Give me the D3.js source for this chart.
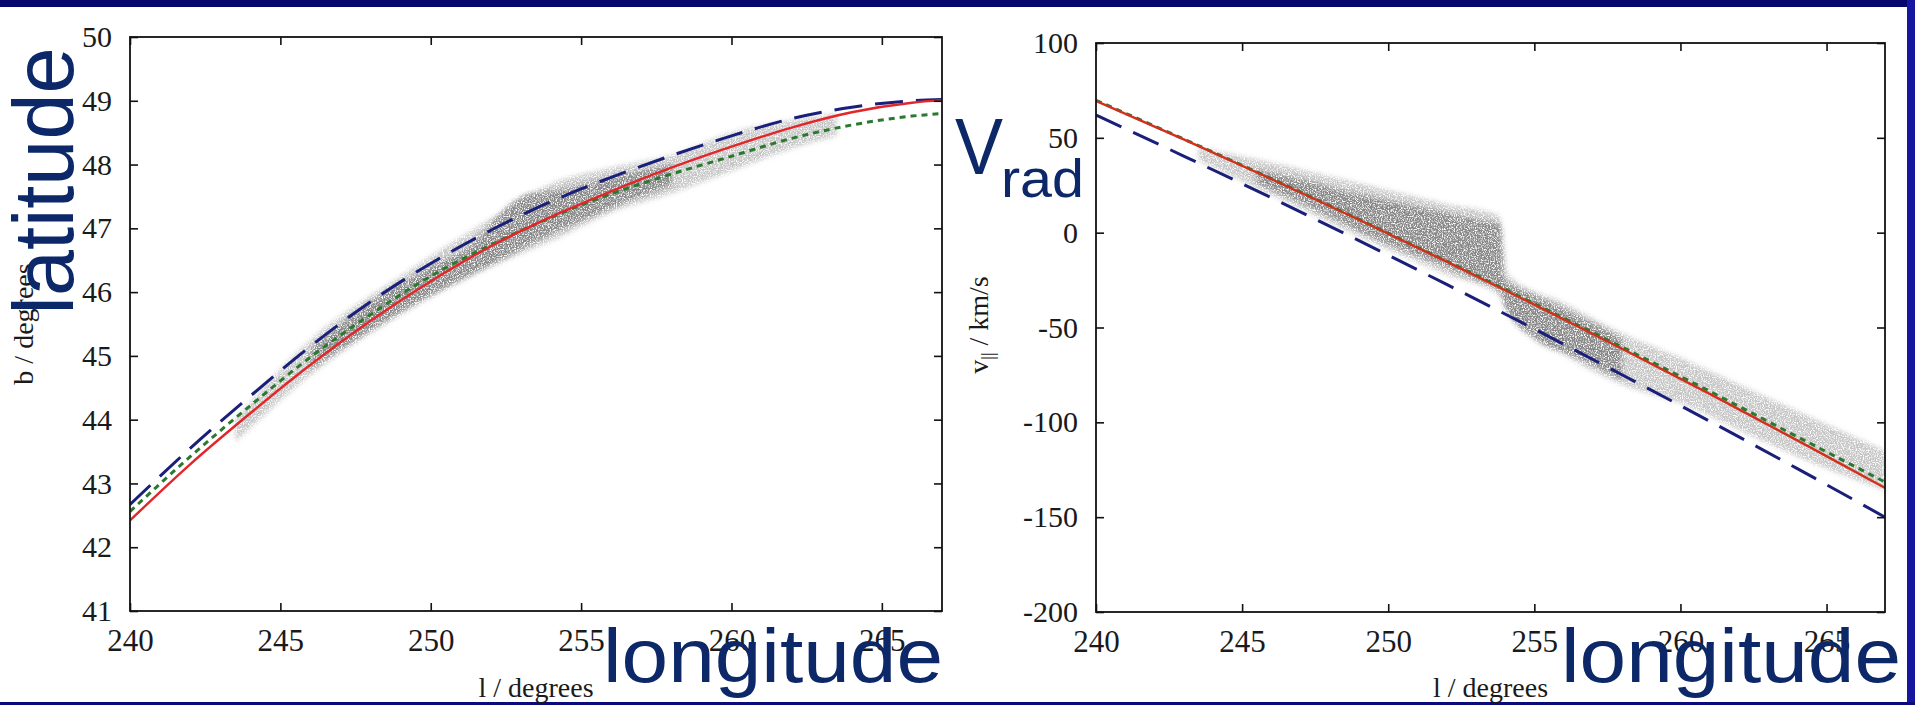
<!DOCTYPE html>
<html>
<head>
<meta charset="utf-8">
<script src="https://cdn.jsdelivr.net/npm/d3@7"></script>
<style>
  html, body { margin: 0; padding: 0; background: #fff; }
  svg { display: block; }
</style>
</head>
<body>
<svg id="chart"></svg>
<script>
// ---- values ----
const lonTicks = [240, 245, 250, 255, 260, 265];
const latTicks = [41, 42, 43, 44, 45, 46, 47, 48, 49, 50];
const velTicks = [-200, -150, -100, -50, 0, 50, 100];

// latitude panel: three model tracks
const latLon   = [240, 242, 244, 246, 248, 250, 252, 254, 256, 258, 260, 262, 264, 266, 267];
const latRed   = [42.42, 43.30, 44.10, 44.86, 45.55, 46.17, 46.72, 47.18, 47.58, 47.95, 48.28, 48.58, 48.82, 48.97, 49.01];
const latBlue  = [42.67, 43.55, 44.37, 45.15, 45.85, 46.45, 46.97, 47.42, 47.80, 48.14, 48.45, 48.72, 48.90, 49.00, 49.02];
const latGreen = [42.56, 43.42, 44.22, 44.98, 45.65, 46.25, 46.74, 47.17, 47.54, 47.85, 48.13, 48.41, 48.62, 48.76, 48.80];

// latitude panel: particle cloud (faint halo + dense core), lower / upper edge
const latHaloLon  = [243.5, 246, 249, 252, 254, 256, 258, 260, 262, 263.5];
const latHaloLow  = [43.65, 44.70, 45.65, 46.40, 46.80, 47.25, 47.55, 47.90, 48.25, 48.45];
const latHaloHigh = [44.00, 45.25, 46.25, 47.15, 47.70, 47.95, 48.15, 48.50, 48.70, 48.80];
const latCoreLon  = [246, 248, 250, 251.5, 252.5, 253.3, 254, 255, 256.5, 258];
const latCoreLow  = [44.80, 45.40, 45.95, 46.30, 46.55, 46.75, 46.92, 47.12, 47.42, 47.68];
const latCoreHigh = [45.10, 45.85, 46.40, 46.80, 47.32, 47.55, 47.58, 47.68, 47.85, 48.00];

// radial velocity panel: three model tracks
const velLon   = [240, 243, 246, 249, 252, 255, 258, 261, 264, 267];
const velRed   = [69.5, 49.2, 28.3, 6.8, -15.3, -37.9, -61.2, -85.0, -109.5, -134.5];
const velBlue  = [62.0, 40.4, 18.4, -4.2, -27.3, -50.8, -74.9, -99.4, -124.4, -150.0];
const velGreen = [69.8, 49.4, 28.5, 7.0, -15.0, -37.4, -60.3, -83.6, -107.6, -131.5];

// radial velocity panel: particle cloud
const velHaloLon  = [243.5, 246, 249, 252, 253.8, 254.1, 256, 258, 260, 262, 264, 267];
const velHaloLow  = [38, 20, -2, -22, -33, -40, -64, -80, -90, -104, -118, -136];
const velHaloHigh = [45, 37, 26, 15, 9, -22, -37, -53, -66, -80, -94, -115];
const velCoreLon  = [245.5, 247, 248.5, 250, 251.5, 253, 253.85, 253.95, 255, 256.5, 258];
const velCoreLow  = [26, 16, 5, -6, -15, -25, -31, -38, -56, -66, -78];
const velCoreHigh = [33, 28, 22, 17, 12, 7, 4, -24, -33, -44, -56];

const W = 1915, H = 705;
const navy = "#0c2869";
const tickFont = "'Liberation Serif', 'Times New Roman', serif";
const bigFont = "'Liberation Sans', Arial, sans-serif";

const svg = d3.select("#chart").attr("width", W).attr("height", H);
svg.append("rect").attr("width", W).attr("height", H).attr("fill", "#fff");

// slide frame
svg.append("rect").attr("x", 0).attr("y", 0).attr("width", W).attr("height", 7).attr("fill", "#06066c");
svg.append("rect").attr("x", 1907).attr("y", 0).attr("width", 8).attr("height", H).attr("fill", "#1616a0");
svg.append("rect").attr("x", 0).attr("y", 702).attr("width", W).attr("height", 3).attr("fill", "#0a0a7a");

// speckle filter so the cloud reads as scattered points
const defs = svg.append("defs");
const f = defs.append("filter").attr("id", "speckle")
    .attr("color-interpolation-filters", "sRGB")
    .attr("x", "-10%").attr("y", "-10%").attr("width", "120%").attr("height", "120%");
f.append("feGaussianBlur").attr("in", "SourceGraphic").attr("stdDeviation", 2.5).attr("result", "soft");
f.append("feTurbulence").attr("type", "fractalNoise").attr("baseFrequency", 0.85)
    .attr("numOctaves", 2).attr("seed", 3).attr("result", "noise");
f.append("feColorMatrix").attr("in", "noise").attr("type", "matrix")
    .attr("values", "0 0 0 0 0.5  0 0 0 0 0.5  0 0 0 0 0.5  3.5 0 0 0 -0.95").attr("result", "dots");
f.append("feComposite").attr("in", "dots").attr("in2", "soft").attr("operator", "in");

function drawPanel(cfg) {
    const x = d3.scaleLinear().domain([240, 267]).range([cfg.left, cfg.right]);
    const y = d3.scaleLinear().domain(cfg.yDomain).range([cfg.bottom, cfg.top]);

    defs.append("clipPath").attr("id", cfg.id + "-clip")
        .append("rect").attr("x", cfg.left).attr("y", cfg.top)
        .attr("width", cfg.right - cfg.left).attr("height", cfg.bottom - cfg.top);

    const plot = svg.append("g").attr("clip-path", `url(#${cfg.id}-clip)`);

    const area = d3.area().curve(d3.curveMonotoneX)
        .x(d => x(d[0])).y0(d => y(d[1])).y1(d => y(d[2]));
    const cloud = plot.append("g").attr("filter", "url(#speckle)");
    cloud.append("path").datum(d3.zip(cfg.haloLon, cfg.haloLow, cfg.haloHigh))
        .attr("d", area).attr("fill", "#777").attr("fill-opacity", 0.45);
    cloud.append("path").datum(d3.zip(cfg.coreLon, cfg.coreLow, cfg.coreHigh))
        .attr("d", area).attr("fill", "#666").attr("fill-opacity", 0.9);

    const line = d3.line().curve(d3.curveMonotoneX).x(d => x(d[0])).y(d => y(d[1]));
    plot.append("path").datum(d3.zip(cfg.lon, cfg.green)).attr("d", line)
        .attr("fill", "none").attr("stroke", "#2a7a2e").attr("stroke-width", 3)
        .attr("stroke-dasharray", "6,5");
    plot.append("path").datum(d3.zip(cfg.lon, cfg.blue)).attr("d", line)
        .attr("fill", "none").attr("stroke", "#1a1f7a").attr("stroke-width", 3)
        .attr("stroke-dasharray", "28,13");
    plot.append("path").datum(d3.zip(cfg.lon, cfg.red)).attr("d", line)
        .attr("fill", "none").attr("stroke", cfg.redColor).attr("stroke-width", 2.4);

    // axes, ticks point inwards on all four sides
    const fmt = d => String(d);
    const styleAxis = sel => {
        sel.select(".domain").remove();
        sel.selectAll(".tick line").attr("stroke", "#111").attr("stroke-width", 1.6);
        sel.selectAll(".tick text").attr("fill", "#1a1a1a").attr("font-family", tickFont);
    };
    svg.append("g").attr("transform", `translate(0,${cfg.bottom})`)
        .call(d3.axisBottom(x).tickValues(lonTicks).tickSize(-8).tickPadding(18).tickFormat(fmt))
        .call(styleAxis).selectAll(".tick text").attr("font-size", 31);
    svg.append("g").attr("transform", `translate(0,${cfg.top})`)
        .call(d3.axisTop(x).tickValues(lonTicks).tickSize(-8).tickFormat(""))
        .call(styleAxis);
    svg.append("g").attr("transform", `translate(${cfg.left},0)`)
        .call(d3.axisLeft(y).tickValues(cfg.yTicks).tickSize(-8).tickPadding(18).tickFormat(fmt))
        .call(styleAxis).selectAll(".tick text").attr("font-size", 30);
    svg.append("g").attr("transform", `translate(${cfg.right},0)`)
        .call(d3.axisRight(y).tickValues(cfg.yTicks).tickSize(-8).tickFormat(""))
        .call(styleAxis);

    svg.append("rect").attr("x", cfg.left).attr("y", cfg.top)
        .attr("width", cfg.right - cfg.left).attr("height", cfg.bottom - cfg.top)
        .attr("fill", "none").attr("stroke", "#111").attr("stroke-width", 1.8);

    svg.append("text").attr("x", (cfg.left + cfg.right) / 2).attr("y", 697)
        .attr("text-anchor", "middle").attr("font-family", tickFont).attr("font-size", 28)
        .attr("fill", "#1a1a1a").text("l / degrees");

    return { x, y };
}

drawPanel({
    id: "lat", left: 130, right: 942, top: 37, bottom: 611,
    yDomain: [41, 50], yTicks: latTicks, redColor: "#e3262a",
    lon: latLon, red: latRed, blue: latBlue, green: latGreen,
    haloLon: latHaloLon, haloLow: latHaloLow, haloHigh: latHaloHigh,
    coreLon: latCoreLon, coreLow: latCoreLow, coreHigh: latCoreHigh
});

drawPanel({
    id: "vel", left: 1096, right: 1885, top: 43, bottom: 612,
    yDomain: [-200, 100], yTicks: velTicks, redColor: "#d2301c",
    lon: velLon, red: velRed, blue: velBlue, green: velGreen,
    haloLon: velHaloLon, haloLow: velHaloLow, haloHigh: velHaloHigh,
    coreLon: velCoreLon, coreLow: velCoreLow, coreHigh: velCoreHigh
});

// small y axis titles
svg.append("text").attr("transform", "translate(33,324) rotate(-90)")
    .attr("text-anchor", "middle").attr("font-family", tickFont).attr("font-size", 28)
    .attr("fill", "#1a1a1a").text("b / degrees");
const vt = svg.append("text").attr("transform", "translate(988,325) rotate(-90)")
    .attr("text-anchor", "middle").attr("font-family", tickFont).attr("font-size", 28)
    .attr("fill", "#1a1a1a");
vt.append("tspan").text("v");
vt.append("tspan").attr("font-size", 18).attr("dy", 6).text("||");
vt.append("tspan").attr("dy", -6).text(" / km/s");

// large slide annotations
svg.append("text").attr("transform", "translate(73,181) rotate(-90)")
    .attr("text-anchor", "middle").attr("font-family", bigFont).attr("font-size", 86)
    .attr("textLength", 267).attr("lengthAdjust", "spacingAndGlyphs")
    .attr("fill", navy).text("latitude");
[603, 1561].forEach(x0 => {
    svg.append("text").attr("x", x0).attr("y", 682)
        .attr("font-family", bigFont).attr("font-size", 76)
        .attr("textLength", 340).attr("lengthAdjust", "spacingAndGlyphs")
        .attr("fill", navy).text("longitude");
});
svg.append("text").attr("x", 955).attr("y", 174)
    .attr("font-family", bigFont).attr("font-size", 80)
    .attr("textLength", 48).attr("lengthAdjust", "spacingAndGlyphs")
    .attr("fill", navy).text("V");
svg.append("text").attr("x", 1001).attr("y", 197)
    .attr("font-family", bigFont).attr("font-size", 54)
    .attr("textLength", 83).attr("lengthAdjust", "spacingAndGlyphs")
    .attr("fill", navy).text("rad");
</script>
</body>
</html>
